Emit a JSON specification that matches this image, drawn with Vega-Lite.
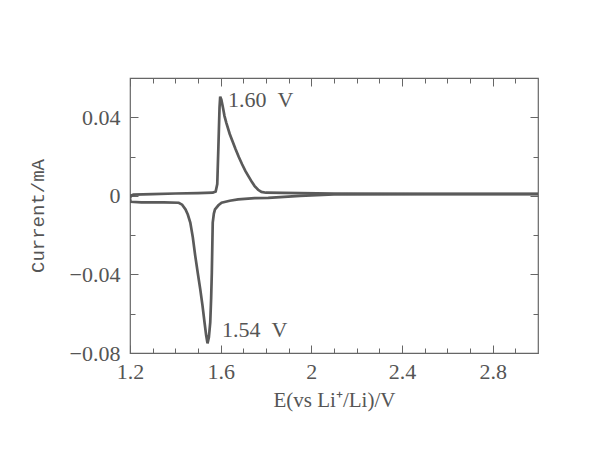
{
  "$schema": "https://vega.github.io/schema/vega-lite/v6.json",
  "width": 408,
  "height": 275,
  "autosize": {"type": "none"},
  "padding": {"left": 130, "top": 78, "right": 62, "bottom": 97},
  "background": "white",
  "config": {
    "view": {"stroke": "#666", "strokeWidth": 1.2},
    "axis": {
      "domain": false,
      "grid": false,
      "tickColor": "#666",
      "tickWidth": 1,
      "labelFont": "Liberation Serif",
      "labelFontSize": 22,
      "labelColor": "#555",
      "titleColor": "#555"
    }
  },
  "datasets": {
    "cv": [
      {"E": 1.2, "I": -0.0012, "branch": "anodic"},
      {"E": 1.205, "I": 0.0002, "branch": "anodic"},
      {"E": 1.215, "I": 0.0006, "branch": "anodic"},
      {"E": 1.3, "I": 0.0009, "branch": "anodic"},
      {"E": 1.4, "I": 0.0012, "branch": "anodic"},
      {"E": 1.5, "I": 0.0014, "branch": "anodic"},
      {"E": 1.565, "I": 0.0016, "branch": "anodic"},
      {"E": 1.578, "I": 0.0022, "branch": "anodic"},
      {"E": 1.585, "I": 0.006, "branch": "anodic"},
      {"E": 1.59, "I": 0.025, "branch": "anodic"},
      {"E": 1.595, "I": 0.045, "branch": "anodic"},
      {"E": 1.598, "I": 0.0505, "branch": "anodic"},
      {"E": 1.603, "I": 0.049, "branch": "anodic"},
      {"E": 1.61, "I": 0.045, "branch": "anodic"},
      {"E": 1.617, "I": 0.0406, "branch": "anodic"},
      {"E": 1.625, "I": 0.0372, "branch": "anodic"},
      {"E": 1.64, "I": 0.0315, "branch": "anodic"},
      {"E": 1.651, "I": 0.0282, "branch": "anodic"},
      {"E": 1.665, "I": 0.024, "branch": "anodic"},
      {"E": 1.68, "I": 0.0198, "branch": "anodic"},
      {"E": 1.694, "I": 0.0162, "branch": "anodic"},
      {"E": 1.71, "I": 0.0125, "branch": "anodic"},
      {"E": 1.725, "I": 0.0095, "branch": "anodic"},
      {"E": 1.738, "I": 0.007, "branch": "anodic"},
      {"E": 1.75, "I": 0.005, "branch": "anodic"},
      {"E": 1.765, "I": 0.0031, "branch": "anodic"},
      {"E": 1.78, "I": 0.002, "branch": "anodic"},
      {"E": 1.8, "I": 0.0016, "branch": "anodic"},
      {"E": 2.1, "I": 0.0011, "branch": "anodic"},
      {"E": 2.5, "I": 0.001, "branch": "anodic"},
      {"E": 3.0, "I": 0.001, "branch": "anodic"},
      {"E": 1.2, "I": -0.0015, "branch": "cathodic"},
      {"E": 1.203, "I": -0.003, "branch": "cathodic"},
      {"E": 1.25, "I": -0.0033, "branch": "cathodic"},
      {"E": 1.35, "I": -0.0033, "branch": "cathodic"},
      {"E": 1.415, "I": -0.0035, "branch": "cathodic"},
      {"E": 1.43, "I": -0.0045, "branch": "cathodic"},
      {"E": 1.445, "I": -0.0069, "branch": "cathodic"},
      {"E": 1.455, "I": -0.0095, "branch": "cathodic"},
      {"E": 1.466, "I": -0.0136, "branch": "cathodic"},
      {"E": 1.477, "I": -0.021, "branch": "cathodic"},
      {"E": 1.488, "I": -0.0307, "branch": "cathodic"},
      {"E": 1.5, "I": -0.04, "branch": "cathodic"},
      {"E": 1.51, "I": -0.0476, "branch": "cathodic"},
      {"E": 1.52, "I": -0.056, "branch": "cathodic"},
      {"E": 1.529, "I": -0.0646, "branch": "cathodic"},
      {"E": 1.536, "I": -0.071, "branch": "cathodic"},
      {"E": 1.542, "I": -0.0751, "branch": "cathodic"},
      {"E": 1.548, "I": -0.072, "branch": "cathodic"},
      {"E": 1.554, "I": -0.0644, "branch": "cathodic"},
      {"E": 1.558, "I": -0.052, "branch": "cathodic"},
      {"E": 1.561, "I": -0.039, "branch": "cathodic"},
      {"E": 1.565, "I": -0.0136, "branch": "cathodic"},
      {"E": 1.57, "I": -0.009, "branch": "cathodic"},
      {"E": 1.575, "I": -0.0069, "branch": "cathodic"},
      {"E": 1.59, "I": -0.0048, "branch": "cathodic"},
      {"E": 1.604, "I": -0.0035, "branch": "cathodic"},
      {"E": 1.64, "I": -0.0025, "branch": "cathodic"},
      {"E": 1.677, "I": -0.0018, "branch": "cathodic"},
      {"E": 1.75, "I": -0.0012, "branch": "cathodic"},
      {"E": 1.81, "I": -0.001, "branch": "cathodic"},
      {"E": 1.95, "I": 0.0, "branch": "cathodic"},
      {"E": 2.1, "I": 0.0008, "branch": "cathodic"},
      {"E": 2.5, "I": 0.0009, "branch": "cathodic"},
      {"E": 3.0, "I": 0.0009, "branch": "cathodic"}
    ],
    "labels": [
      {"E": 1.632, "I": 0.049, "text": "1.60\u00a0\u00a0V"},
      {"E": 1.606, "I": -0.0685, "text": "1.54\u00a0\u00a0V"}
    ]
  },
  "layer": [
    {
      "data": {"name": "cv"},
      "mark": {"type": "line", "color": "#5a5a5a", "strokeWidth": 2.7, "clip": true},
      "encoding": {
        "x": {
          "field": "E", "type": "quantitative",
          "scale": {"domain": [1.2, 3.0], "nice": false, "zero": false},
          "axis": {
            "orient": "bottom",
            "values": [1.2,1.3,1.4,1.5,1.6,1.7,1.8,1.9,2.0,2.1,2.2,2.3,2.4,2.5,2.6,2.7,2.8,2.9],
            "tickSize": {"condition": {"test": "round(datum.value*10) % 4 === 0", "value": -8}, "value": -5},
            "labelExpr": "round(datum.value*10) % 4 === 0 ? '' + round(datum.value*10)/10 : ''",
            "labelPadding": 16,
            "labelFlush": false,
            "labelOverlap": false,
            "title": "E(vs Li⁺/Li)/V",
            "titleFont": "Liberation Serif",
            "titleFontSize": 21,
            "titleFontWeight": "normal",
            "titlePadding": 4
          }
        },
        "y": {
          "field": "I", "type": "quantitative",
          "scale": {"domain": [-0.08, 0.06], "nice": false, "zero": false},
          "axis": {
            "orient": "left",
            "values": [-0.08,-0.06,-0.04,-0.02,0,0.02,0.04],
            "tickSize": {"condition": {"test": "round(datum.value*100) % 4 === 0", "value": -8}, "value": -5},
            "labelExpr": "round(datum.value*100) % 4 === 0 ? (datum.value === 0 ? '0' : (datum.value < 0 ? '−' : '') + format(abs(datum.value), '.2f')) : ''",
            "labelPadding": 18,
            "labelFlush": false,
            "labelOverlap": false,
            "title": "Current/mA",
            "titleFont": "Liberation Mono",
            "titleFontSize": 19,
            "titleFontWeight": "normal",
            "titlePadding": 22
          }
        },
        "detail": {"field": "branch"}
      }
    },
    {
      "data": {"name": "labels"},
      "mark": {"type": "text", "align": "left", "baseline": "middle", "font": "Liberation Serif", "fontSize": 22, "color": "#555"},
      "encoding": {
        "x": {
          "field": "E", "type": "quantitative",
          "scale": {"domain": [1.2, 3.0], "nice": false, "zero": false},
          "axis": {
            "orient": "top",
            "values": [1.2,1.3,1.4,1.5,1.6,1.7,1.8,1.9,2.0,2.1,2.2,2.3,2.4,2.5,2.6,2.7,2.8,2.9],
            "tickSize": {"condition": {"test": "round(datum.value*10) % 4 === 0", "value": -8}, "value": -5},
            "labels": false,
            "title": null
          }
        },
        "y": {
          "field": "I", "type": "quantitative",
          "scale": {"domain": [-0.08, 0.06], "nice": false, "zero": false},
          "axis": {
            "orient": "right",
            "values": [-0.08,-0.06,-0.04,-0.02,0,0.02,0.04],
            "tickSize": {"condition": {"test": "round(datum.value*100) % 4 === 0", "value": -8}, "value": -5},
            "labels": false,
            "title": null
          }
        },
        "text": {"field": "text"}
      }
    }
  ],
  "resolve": {"axis": {"x": "independent", "y": "independent"}}
}
